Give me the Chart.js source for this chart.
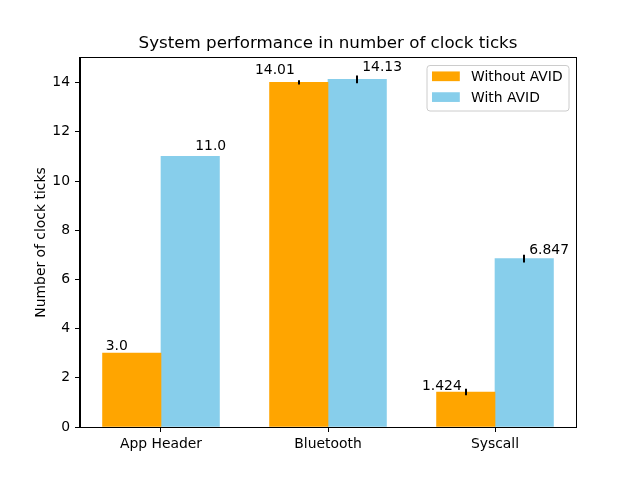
<!DOCTYPE html>
<html>
<head>
<meta charset="utf-8">
<script src="https://cdn.jsdelivr.net/npm/chart.js@4/dist/chart.umd.min.js"></script>
<style>
  html, body { margin: 0; padding: 0; background: #fff; }
  #wrap { width: 640px; height: 480px; }
</style>
</head>
<body>
<div id="wrap"><canvas id="c" width="640" height="480"></canvas></div>
<script>
// ---- data ----
const categories = ['App Header', 'Bluetooth', 'Syscall'];
const seriesNames = ['Without AVID', 'With AVID'];
const withoutAvid = [3.0, 14.01, 1.424];
const withAvid = [11.0, 14.13, 6.847];
const withoutAvidErr = [0, 0.09, 0.13];
const withAvidErr = [0, 0.16, 0.16];
const valueLabels = [['3.0', '14.01', '1.424'], ['11.0', '14.13', '6.847']];
const yTicks = [0, 2, 4, 6, 8, 10, 12, 14];

const BAR_W = 0.35;
const COLORS = ['#FFA500', '#87CEEB'];
const FONT = '"DejaVu Sans", "Liberation Sans", sans-serif';

function pts(vals, shift) {
  return vals.map((v, i) => ({ x: i + shift, y: v }));
}

const errs = [withoutAvidErr, withAvidErr];

const overlay = {
  id: 'overlay',
  afterDatasetsDraw(chart) {
    const { ctx, chartArea: a, scales } = chart;
    const xs = scales.x, ys = scales.y;
    ctx.save();
    // error bars
    ctx.strokeStyle = '#000';
    ctx.lineWidth = 2;
    chart.data.datasets.forEach((ds, d) => {
      ds.data.forEach((p, i) => {
        const e = errs[d][i];
        if (!e) return;
        const px = Math.round(xs.getPixelForValue(p.x));
        ctx.beginPath();
        ctx.moveTo(px, ys.getPixelForValue(p.y - e));
        ctx.lineTo(px, ys.getPixelForValue(p.y + e));
        ctx.stroke();
      });
    });
    // spines
    ctx.lineWidth = 1;
    ctx.strokeStyle = '#000';
    ctx.strokeRect(Math.round(a.left) - 0.5, Math.round(a.top) - 0.5,
                   Math.round(a.right - a.left) + 1, Math.round(a.bottom - a.top) + 1);
    // value labels
    ctx.fillStyle = '#000';
    ctx.font = '13.9px ' + FONT;
    ctx.textBaseline = 'alphabetic';
    chart.data.datasets.forEach((ds, d) => {
      ds.data.forEach((p, i) => {
        const px = xs.getPixelForValue(p.x);
        const py = ys.getPixelForValue(p.y * 1.02 + 0.06);
        if (d === 0) { ctx.textAlign = 'right'; ctx.fillText(valueLabels[d][i], px - 4, py); }
        else { ctx.textAlign = 'left'; ctx.fillText(valueLabels[d][i], px + 5, py); }
      });
    });
    // title
    ctx.font = '16.7px ' + FONT;
    ctx.textAlign = 'center';
    ctx.fillText('System performance in number of clock ticks', (a.left + a.right) / 2, 48);
    // y axis label
    ctx.save();
    ctx.translate(44.5, (a.top + a.bottom) / 2);
    ctx.rotate(-Math.PI / 2);
    ctx.font = '13.9px ' + FONT;
    ctx.textAlign = 'center';
    ctx.fillText('Number of clock ticks', 0, 0);
    ctx.restore();
    // legend
    const lx = 427, ly = 65.5, lw = 142, lh = 45.5, r = 3;
    ctx.beginPath();
    ctx.moveTo(lx + r, ly);
    ctx.arcTo(lx + lw, ly, lx + lw, ly + lh, r);
    ctx.arcTo(lx + lw, ly + lh, lx, ly + lh, r);
    ctx.arcTo(lx, ly + lh, lx, ly, r);
    ctx.arcTo(lx, ly, lx + lw, ly, r);
    ctx.closePath();
    ctx.fillStyle = 'rgba(255,255,255,0.8)';
    ctx.fill();
    ctx.strokeStyle = '#cccccc';
    ctx.lineWidth = 1;
    ctx.stroke();
    ctx.font = '13.9px ' + FONT;
    ctx.textAlign = 'left';
    chart.data.datasets.forEach((ds, d) => {
      const cy = 76.3 + d * 20.8;
      ctx.fillStyle = ds.backgroundColor;
      ctx.fillRect(432, cy - 4.85, 27.8, 9.7);
      ctx.fillStyle = '#000';
      ctx.fillText(ds.label, 471, cy + 5);
    });
    ctx.restore();
  }
};

new Chart(document.getElementById('c'), {
  type: 'bar',
  data: {
    datasets: [
      { label: seriesNames[0], data: pts(withoutAvid, -BAR_W / 2), backgroundColor: COLORS[0],
        grouped: false, categoryPercentage: 1, barPercentage: 1, borderWidth: 0 },
      { label: seriesNames[1], data: pts(withAvid, BAR_W / 2), backgroundColor: COLORS[1],
        grouped: false, categoryPercentage: 1, barPercentage: 1, borderWidth: 0 }
    ]
  },
  options: {
    responsive: false,
    animation: false,
    devicePixelRatio: 1,
    layout: { padding: { left: 0, top: 58, right: 64, bottom: 0 } },
    plugins: { legend: { display: false }, title: { display: false }, tooltip: { enabled: false } },
    scales: {
      x: {
        type: 'linear',
        offset: false,
        min: -0.485,
        max: 2.485,
        afterBuildTicks(scale) { scale.ticks = categories.map((_, i) => ({ value: i })); },
        afterFit(scale) { scale.height = 53; },
        grid: { display: true, drawOnChartArea: false, drawTicks: true, tickLength: 5, tickColor: '#000', offset: false },
        border: { display: true, color: '#000', width: 1 },
        ticks: {
          autoSkip: false, maxRotation: 0, padding: 4, color: '#000',
          font: { family: FONT, size: 13.9 },
          callback: (v) => categories[v] !== undefined ? categories[v] : ''
        }
      },
      y: {
        min: 0,
        max: 15,
        afterBuildTicks(scale) { scale.ticks = yTicks.map(v => ({ value: v })); },
        afterFit(scale) { scale.width = 80; },
        grid: { display: true, drawOnChartArea: false, drawTicks: true, tickLength: 5, tickColor: '#000' },
        border: { display: true, color: '#000', width: 1 },
        ticks: { padding: 5, color: '#000', font: { family: FONT, size: 13.9 } }
      }
    }
  },
  plugins: [overlay]
});
</script>
</body>
</html>
